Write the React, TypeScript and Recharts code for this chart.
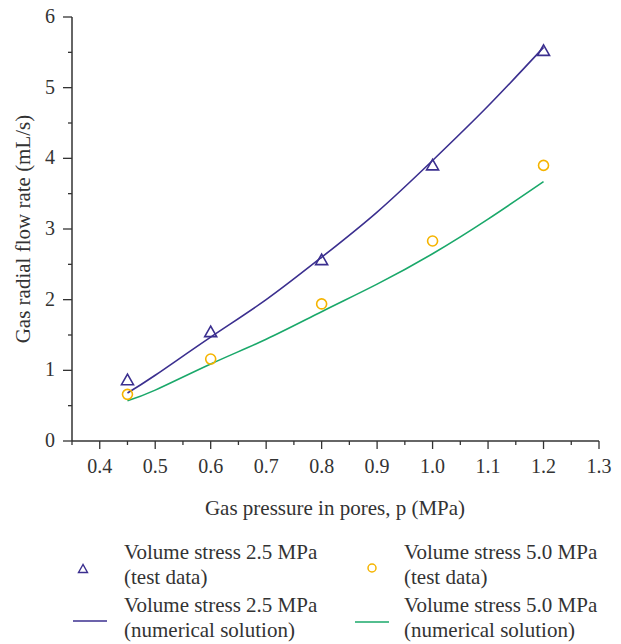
import React from "react";
import {
  ComposedChart,
  Line,
  Scatter,
  XAxis,
  YAxis,
} from "recharts";

// test data (measured points)
const testPressure = [0.45, 0.6, 0.8, 1.0, 1.2];
const testFlow25 = [0.86, 1.54, 2.56, 3.9, 5.52];
const testFlow50 = [0.66, 1.16, 1.94, 2.83, 3.9];

// numerical solution curves
const numPressure = [0.45, 0.5, 0.6, 0.7, 0.8, 0.9, 1.0, 1.1, 1.2];
const numFlow25 = [0.68, 0.93, 1.47, 2.0, 2.6, 3.24, 3.97, 4.74, 5.57];
const numFlow50 = [0.57, 0.72, 1.09, 1.44, 1.83, 2.22, 2.65, 3.14, 3.67];

const xMajor = [0.4, 0.5, 0.6, 0.7, 0.8, 0.9, 1.0, 1.1, 1.2, 1.3];
const xMinor = [0.35, 0.45, 0.55, 0.65, 0.75, 0.85, 0.95, 1.05, 1.15, 1.25];
const yMajor = [0, 1, 2, 3, 4, 5, 6];
const yMinor = [0.5, 1.5, 2.5, 3.5, 4.5, 5.5];

const BLUE = "#3b2f8f";
const GREEN = "#1aa86a";
const ORANGE = "#f5b400";
const AXIS = "#333";
const FONT = "'Liberation Serif', 'DejaVu Serif', serif";

const zip = (xs: number[], ys: number[]) => xs.map((x, i) => ({ x, y: ys[i] }));

const test25 = zip(testPressure, testFlow25);
const test50 = zip(testPressure, testFlow50);
const num25 = zip(numPressure, numFlow25);
const num50 = zip(numPressure, numFlow50);

const isMajor = (v: number, list: number[]) =>
  list.some((m) => Math.abs(m - v) < 1e-6);

function XTick(props: any) {
  const { x, y, payload } = props;
  const major = isMajor(payload.value, xMajor);
  return (
    <g>
      <line x1={x} x2={x} y1={y} y2={y + (major ? 8 : 4)} stroke={AXIS} strokeWidth={1.3} />
      {major && (
        <text x={x} y={y + 32} textAnchor="middle" fill={AXIS} fontSize={20} fontFamily={FONT}>
          {payload.value.toFixed(1)}
        </text>
      )}
    </g>
  );
}

function YTick(props: any) {
  const { x, y, payload } = props;
  const major = isMajor(payload.value, yMajor);
  return (
    <g>
      <line x1={x} x2={x - (major ? 9 : 4)} y1={y} y2={y} stroke={AXIS} strokeWidth={1.3} />
      {major && (
        <text x={x - 17} y={y + 6} textAnchor="end" fill={AXIS} fontSize={20} fontFamily={FONT}>
          {payload.value}
        </text>
      )}
    </g>
  );
}

function TriangleShape(props: any) {
  const { cx, cy } = props;
  if (cx == null || cy == null) return null;
  return (
    <polygon
      points={`${cx},${cy - 6} ${cx - 6},${cy + 4.5} ${cx + 6},${cy + 4.5}`}
      fill="none"
      stroke={BLUE}
      strokeWidth={1.6}
    />
  );
}

function CircleShape(props: any) {
  const { cx, cy } = props;
  if (cx == null || cy == null) return null;
  return <circle cx={cx} cy={cy} r={5} fill="none" stroke={ORANGE} strokeWidth={1.6} />;
}

const legendText: React.CSSProperties = {
  position: "absolute",
  fontFamily: FONT,
  fontSize: 21,
  lineHeight: "25px",
  color: AXIS,
  whiteSpace: "nowrap",
};

export default function App() {
  return (
    <div style={{ position: "absolute", left: 0, top: 0, width: 621, height: 644, background: "#fff" }}>
      <ComposedChart
        width={621}
        height={644}
        margin={{ top: 17, right: 22, bottom: 123, left: 0 }}
        style={{ fontFamily: FONT }}
      >
        <XAxis
          xAxisId="main"
          dataKey="x"
          type="number"
          domain={[0.35, 1.3]}
          ticks={[...xMinor, ...xMajor].sort((a, b) => a - b)}
          interval={0}
          tickSize={0}
          tickMargin={0}
          tick={<XTick />}
          tickLine={false}
          axisLine={{ stroke: AXIS, strokeWidth: 1.5 }}
          height={80}
          allowDataOverflow
          label={{
            content: () => (
              <text x={335} y={515} textAnchor="middle" fill={AXIS} fontSize={21} fontFamily={FONT}>
                Gas pressure in pores, p (MPa)
              </text>
            ),
          }}
        />
        <XAxis
          xAxisId="top"
          orientation="top"
          type="number"
          domain={[0.35, 1.3]}
          height={0}
          tick={false}
          tickLine={false}
          axisLine={{ stroke: AXIS, strokeWidth: 1.5 }}
        />
        <YAxis
          yAxisId="main"
          dataKey="y"
          type="number"
          domain={[0, 6]}
          ticks={[...yMinor, ...yMajor].sort((a, b) => a - b)}
          interval={0}
          tickSize={0}
          tickMargin={0}
          tick={<YTick />}
          tickLine={false}
          axisLine={{ stroke: AXIS, strokeWidth: 1.5 }}
          width={72}
          label={{
            content: () => (
              <text
                x={30}
                y={229}
                textAnchor="middle"
                fill={AXIS}
                fontSize={21}
                fontFamily={FONT}
                transform="rotate(-90, 30, 229)"
              >
                Gas radial flow rate (mL/s)
              </text>
            ),
          }}
        />
        <YAxis
          yAxisId="right"
          orientation="right"
          type="number"
          domain={[0, 6]}
          width={0}
          tick={false}
          tickLine={false}
          axisLine={{ stroke: AXIS, strokeWidth: 1.5 }}
        />
        <Line
          xAxisId="main"
          yAxisId="main"
          data={num25}
          dataKey="y"
          type="natural"
          stroke={BLUE}
          strokeWidth={1.6}
          dot={false}
          activeDot={false}
          isAnimationActive={false}
        />
        <Line
          xAxisId="main"
          yAxisId="main"
          data={num50}
          dataKey="y"
          type="natural"
          stroke={GREEN}
          strokeWidth={1.6}
          dot={false}
          activeDot={false}
          isAnimationActive={false}
        />
        <Scatter
          xAxisId="main"
          yAxisId="main"
          data={test25}
          dataKey="y"
          shape={<TriangleShape />}
          isAnimationActive={false}
        />
        <Scatter
          xAxisId="main"
          yAxisId="main"
          data={test50}
          dataKey="y"
          shape={<CircleShape />}
          isAnimationActive={false}
        />
      </ComposedChart>

      {/* legend */}
      <svg style={{ position: "absolute", left: 0, top: 0 }} width={621} height={644} pointerEvents="none">
        <polygon points="83,564.5 78.5,572.5 87.5,572.5" fill="none" stroke={BLUE} strokeWidth={1.4} />
        <circle cx={372} cy={568} r={4} fill="none" stroke={ORANGE} strokeWidth={1.5} />
        <line x1={73} x2={107} y1={621} y2={621} stroke={BLUE} strokeWidth={1.6} />
        <line x1={355} x2={389} y1={622} y2={622} stroke={GREEN} strokeWidth={1.6} />
      </svg>
      <div style={{ ...legendText, left: 124, top: 540 }}>
        Volume stress 2.5 MPa
        <br />
        (test data)
      </div>
      <div style={{ ...legendText, left: 124, top: 593 }}>
        Volume stress 2.5 MPa
        <br />
        (numerical solution)
      </div>
      <div style={{ ...legendText, left: 404, top: 540 }}>
        Volume stress 5.0 MPa
        <br />
        (test data)
      </div>
      <div style={{ ...legendText, left: 404, top: 593 }}>
        Volume stress 5.0 MPa
        <br />
        (numerical solution)
      </div>
    </div>
  );
}
